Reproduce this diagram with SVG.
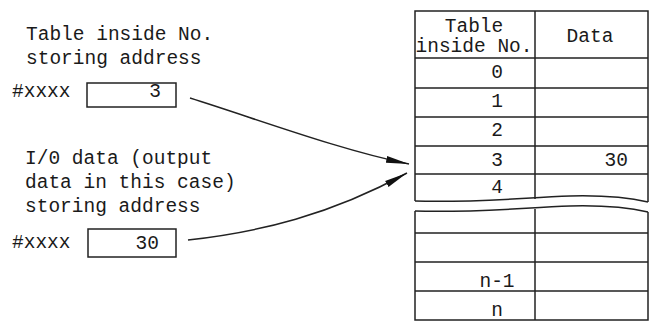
<svg xmlns="http://www.w3.org/2000/svg" width="649" height="321" viewBox="0 0 649 321">
<style>
text{font-family:"Liberation Mono","DejaVu Sans Mono",monospace;font-size:19.5px;fill:#1a1a1a}
.ln{stroke:#222;stroke-width:1.5;fill:none}
.box{stroke:#222;stroke-width:1.5;fill:#fff}
.mid{text-anchor:middle}
.end{text-anchor:end}
</style>
<defs>
<marker id="ah" markerUnits="userSpaceOnUse" markerWidth="24" markerHeight="10" viewBox="0 0 24 10" refX="23" refY="5" orient="auto">
<path d="M0,1.5 L23,5 L0,8.5 Z" fill="#111"/>
</marker>
</defs>
<rect width="649" height="321" fill="#fff"/>
<g id="table-no-address">
<text x="26" y="40">Table inside No.</text>
<text x="26" y="64">storing address</text>
<text x="12" y="97">#xxxx</text>
<rect class="box" x="87" y="83" width="89" height="24"/>
<text class="end" x="161" y="97">3</text>
</g>
<g id="io-data-address">
<text x="25" y="164">I/0 data (output</text>
<text x="25" y="188">data in this case)</text>
<text x="25" y="212">storing address</text>
<text x="12" y="248">#xxxx</text>
<rect class="box" x="88" y="229" width="88" height="28"/>
<text class="end" x="159" y="249">30</text>
</g>
<g id="table">
<path class="ln" d="M415,201 L415,11 L648,11 L648,202"/>
<path class="ln" d="M535,11 L535,199"/>
<path class="ln" d="M415,58 H648 M415,88 H648 M415,117 H648 M415,146 H648 M415,174 H648"/>
<path class="ln" d="M415,201 C470,203 520,198 570,196 C610,195 635,199 648,202"/>
<path class="ln" d="M415,211 C470,213 520,208 570,206 C610,205 635,209 648,212"/>
<path class="ln" d="M415,211 L415,320 L648,320 L648,212"/>
<path class="ln" d="M535,209 L535,320"/>
<path class="ln" d="M415,233 H648 M415,262 H648 M415,291 H648"/>
<text class="mid" x="474" y="32">Table</text>
<text class="mid" x="474" y="52">inside No.</text>
<text class="mid" x="590" y="42">Data</text>
<text class="mid" x="497" y="78">0</text>
<text class="mid" x="497" y="107">1</text>
<text class="mid" x="497" y="136">2</text>
<text class="mid" x="497" y="166">3</text>
<text class="end" x="628" y="166">30</text>
<text class="mid" x="497" y="193">4</text>
<text class="mid" x="497" y="287">n-1</text>
<text class="mid" x="497" y="316">n</text>
</g>
<g id="connectors">
<path class="ln" stroke-width="1.2" d="M190,98 C260,120 340,150 409,164" marker-end="url(#ah)"/>
<path class="ln" stroke-width="1.2" d="M188,240 C260,232 330,215 407,173" marker-end="url(#ah)"/>
</g>
</svg>
